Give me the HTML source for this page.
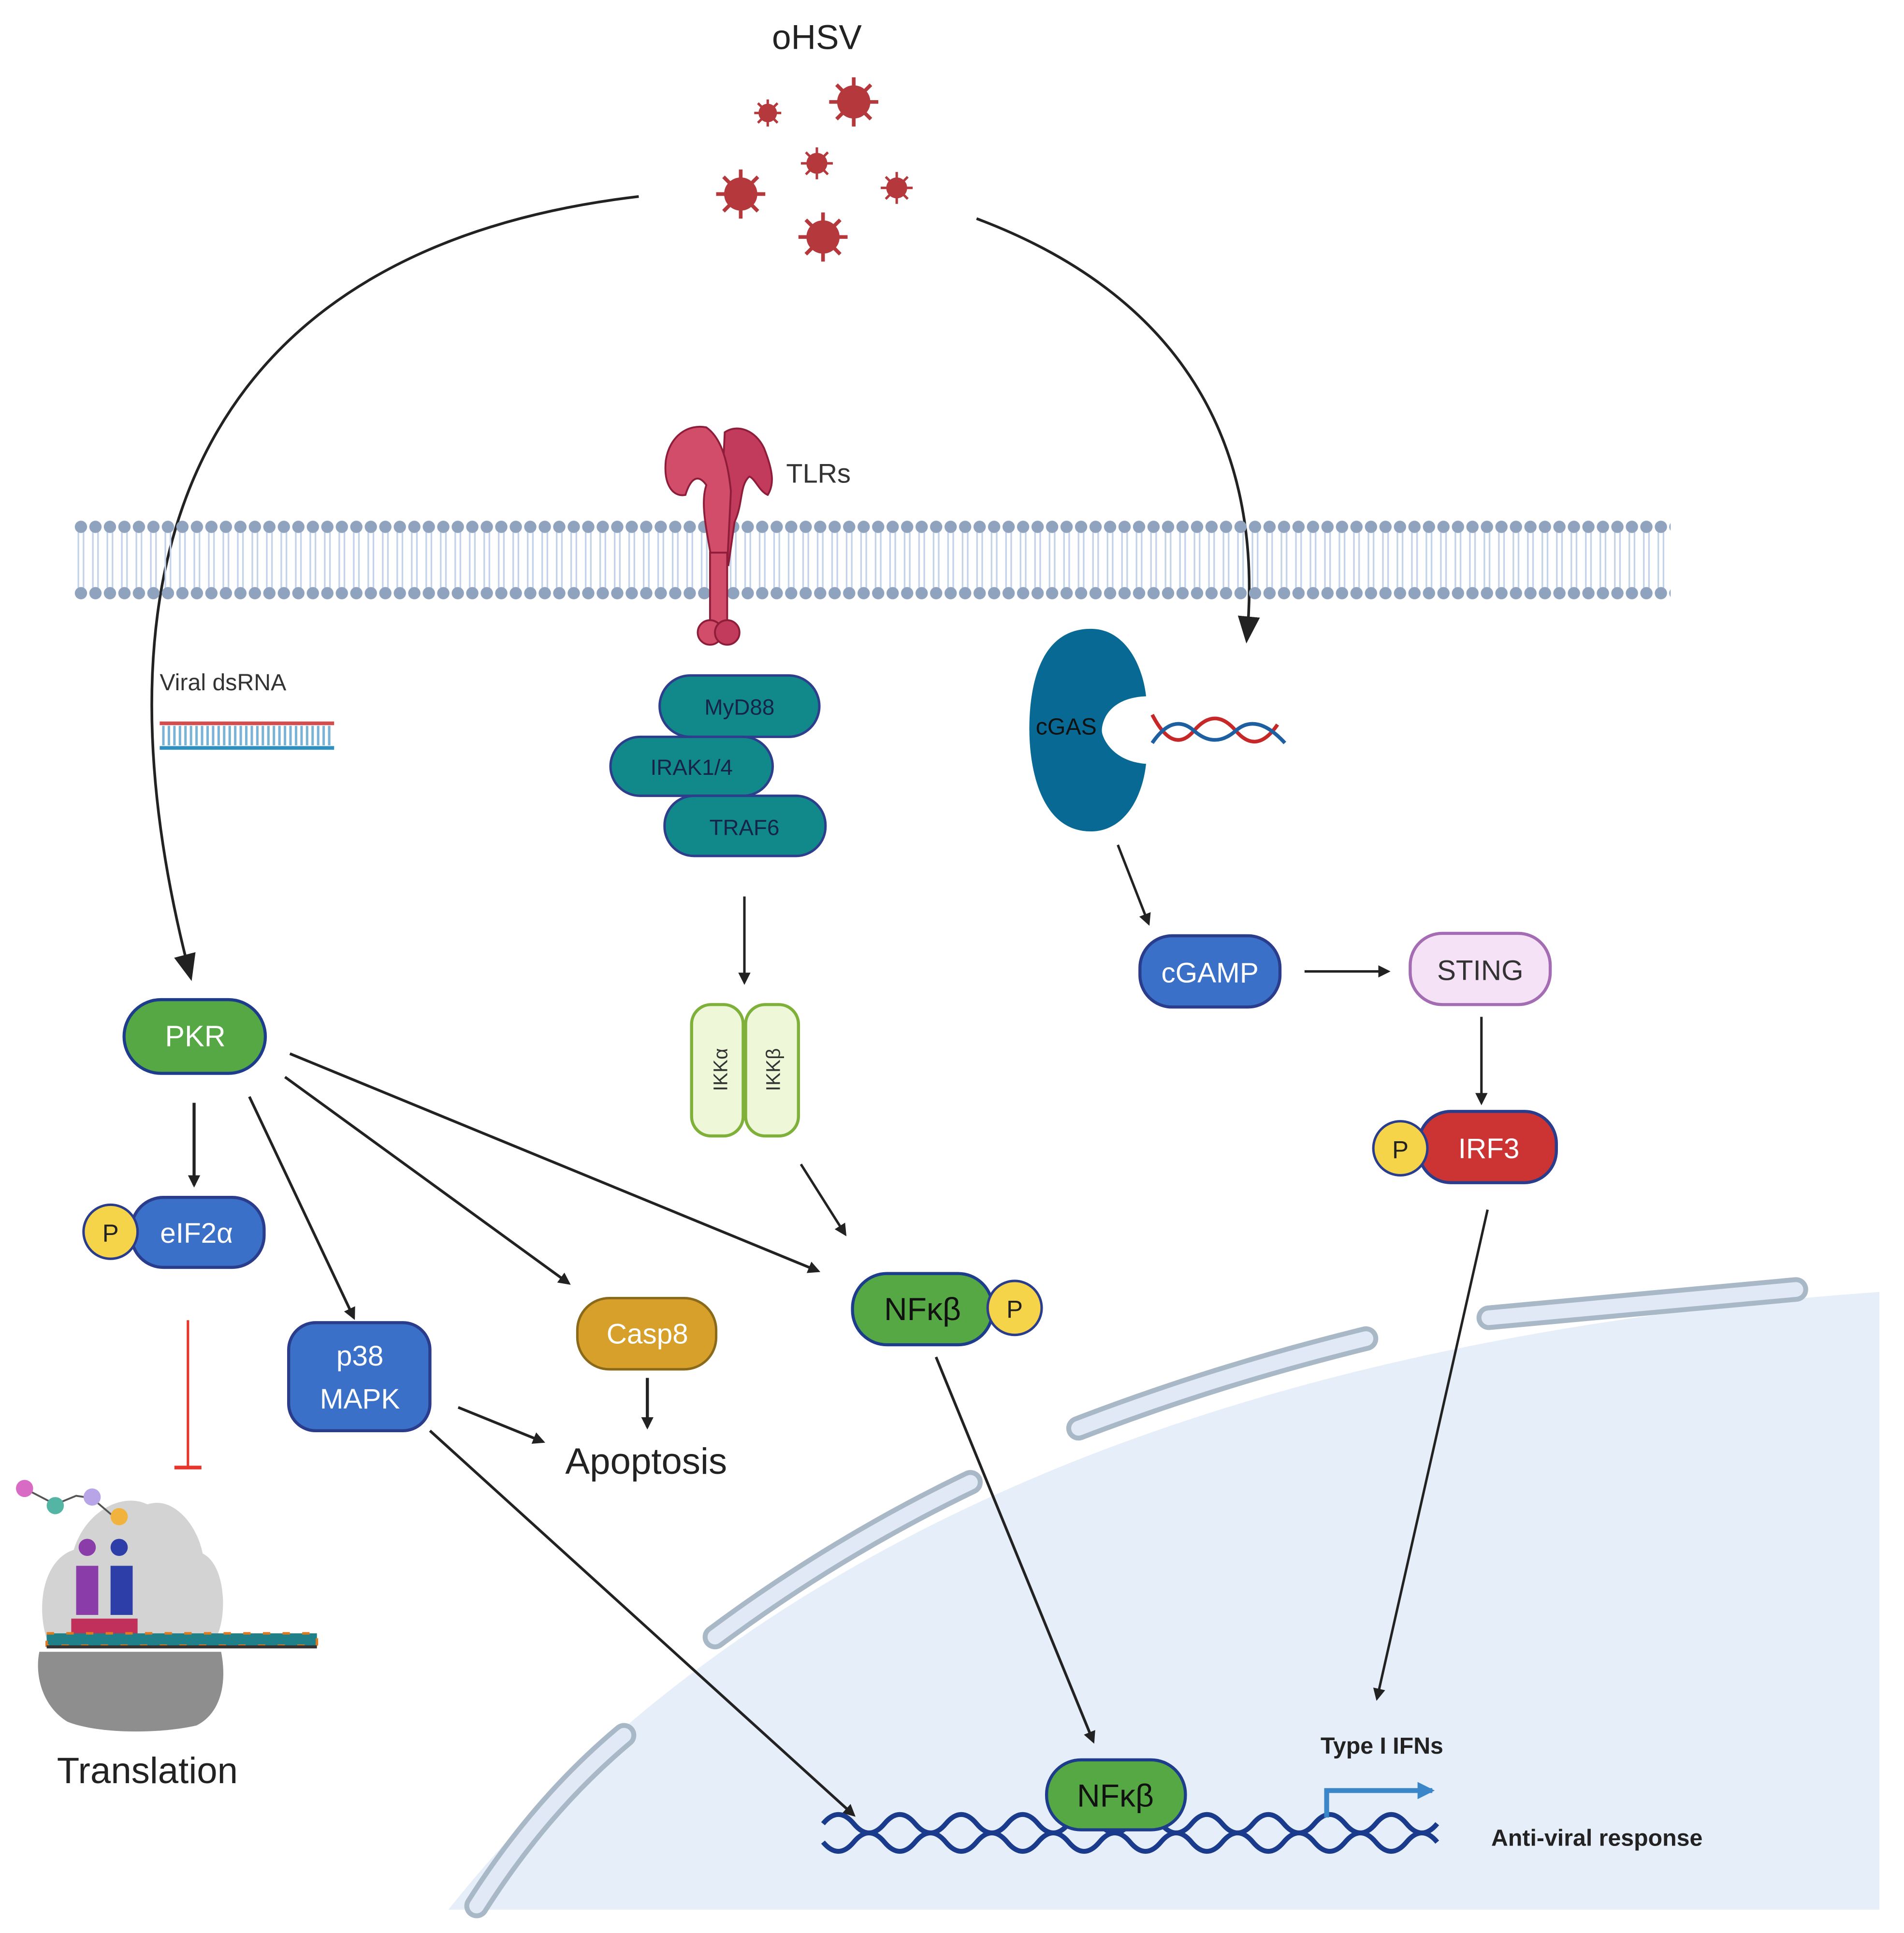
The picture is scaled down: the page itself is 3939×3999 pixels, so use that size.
<!DOCTYPE html>
<html><head><meta charset="utf-8"><style>
html,body{margin:0;padding:0;background:#fff;}
svg{display:block;}
text{font-family:"Liberation Sans",sans-serif;}
</style></head><body>
<svg width="3939" height="3999" viewBox="0 0 1550 1574" preserveAspectRatio="none" xmlns="http://www.w3.org/2000/svg">
<defs>
<marker id="ar" markerWidth="10" markerHeight="10" refX="8" refY="5" orient="auto" markerUnits="userSpaceOnUse"><path d="M0,0 L10,5 L0,10 Z" fill="#222"/></marker>
<marker id="arb" markerWidth="22" markerHeight="22" refX="18" refY="11" orient="auto" markerUnits="userSpaceOnUse"><path d="M0,2 L22,11 L0,20 Z" fill="#222"/></marker>
<marker id="arblue" markerWidth="14" markerHeight="14" refX="12" refY="7" orient="auto" markerUnits="userSpaceOnUse"><path d="M0,0 L14,7 L0,14 Z" fill="#3a86c8"/></marker>
<pattern id="mem" x="60" y="423" width="11.8" height="66" patternUnits="userSpaceOnUse">
<line x1="3.8" y1="10" x2="3.8" y2="56" stroke="#c2d2ea" stroke-width="1.3"/>
<line x1="8" y1="10" x2="8" y2="56" stroke="#c2d2ea" stroke-width="1.3"/>
<circle cx="5.9" cy="6" r="5" fill="#8fa3bf"/>
<circle cx="5.9" cy="60" r="5" fill="#8fa3bf"/>
</pattern>
</defs>
<rect width="1550" height="1574" fill="#fff"/>

<!-- nucleus -->
<path d="M365,1555 Q 720,1110 1530,1052 L1530,1555 Z" fill="#e6eef9"/>
<g stroke-linecap="round" fill="none">
<g stroke="#a9b8c6" stroke-width="20">
<path d="M1212,1073 L1462,1050"/>
<path d="M878,1163 Q 990,1120 1112,1090"/>
<path d="M582,1333 Q 680,1260 790,1207"/>
<path d="M388,1552 Q 440,1470 508,1413"/>
</g>
<g stroke="#e0e9f5" stroke-width="12">
<path d="M1212,1073 L1462,1050"/>
<path d="M878,1163 Q 990,1120 1112,1090"/>
<path d="M582,1333 Q 680,1260 790,1207"/>
<path d="M388,1552 Q 440,1470 508,1413"/>
</g>
</g>

<!-- oHSV -->
<text x="665" y="40" font-size="28" text-anchor="middle" fill="#222">oHSV</text>
<g fill="#b5393c" stroke="#b5393c">
<g transform="translate(625,92)"><circle r="7"/><g stroke-width="2"><line x1="0" y1="-11" x2="0" y2="11"/><line x1="-11" y1="0" x2="11" y2="0"/><line x1="-8" y1="-8" x2="8" y2="8"/><line x1="-8" y1="8" x2="8" y2="-8"/></g></g>
<g transform="translate(695,83)"><circle r="13"/><g stroke-width="3"><line x1="0" y1="-20" x2="0" y2="20"/><line x1="-20" y1="0" x2="20" y2="0"/><line x1="-14" y1="-14" x2="14" y2="14"/><line x1="-14" y1="14" x2="14" y2="-14"/></g></g>
<g transform="translate(665,133)"><circle r="8"/><g stroke-width="2"><line x1="0" y1="-13" x2="0" y2="13"/><line x1="-13" y1="0" x2="13" y2="0"/><line x1="-9" y1="-9" x2="9" y2="9"/><line x1="-9" y1="9" x2="9" y2="-9"/></g></g>
<g transform="translate(603,158)"><circle r="13"/><g stroke-width="3"><line x1="0" y1="-20" x2="0" y2="20"/><line x1="-20" y1="0" x2="20" y2="0"/><line x1="-14" y1="-14" x2="14" y2="14"/><line x1="-14" y1="14" x2="14" y2="-14"/></g></g>
<g transform="translate(730,153)"><circle r="8"/><g stroke-width="2"><line x1="0" y1="-13" x2="0" y2="13"/><line x1="-13" y1="0" x2="13" y2="0"/><line x1="-9" y1="-9" x2="9" y2="9"/><line x1="-9" y1="9" x2="9" y2="-9"/></g></g>
<g transform="translate(670,193)"><circle r="13"/><g stroke-width="3"><line x1="0" y1="-20" x2="0" y2="20"/><line x1="-20" y1="0" x2="20" y2="0"/><line x1="-14" y1="-14" x2="14" y2="14"/><line x1="-14" y1="14" x2="14" y2="-14"/></g></g>
</g>

<!-- big curves -->
<path d="M520,160 C 180,200 60,430 155,795" fill="none" stroke="#222" stroke-width="2.2" marker-end="url(#arb)"/>
<path d="M795,178 C 960,240 1030,360 1015,520" fill="none" stroke="#222" stroke-width="2.2" marker-end="url(#arb)"/>

<!-- membrane -->
<rect x="60" y="423" width="1300" height="66" fill="url(#mem)"/>

<!-- TLR -->
<g fill="#d24d6a" stroke="#8e1d3a" stroke-width="1.5">
<path d="M585,455 L590,352 C600,345 615,350 622,365 C630,385 630,395 625,403 C618,400 615,390 610,388 C602,395 605,410 598,425 L593,460 Z" fill="#c23a5c"/>
<path d="M580,460 C575,430 570,410 575,395 C568,385 562,390 558,403 C548,405 540,395 542,375 C545,355 560,345 575,348 C585,355 592,370 595,400 L592,460 Z"/>
<rect x="578" y="450" width="14" height="60"/>
<circle cx="578" cy="515" r="10"/><circle cx="592" cy="515" r="10" fill="#c23a5c"/>
</g>
<text x="640" y="393" font-size="22" fill="#333">TLRs</text>

<!-- MyD88 stack -->
<g stroke="#2c3e8c" stroke-width="2" fill="#11898a">
<rect x="537" y="550" width="130" height="50" rx="25"/>
<rect x="497" y="600" width="132" height="48" rx="24"/>
<rect x="541" y="648" width="131" height="49" rx="24"/>
</g>
<g font-size="18" fill="#16244a" text-anchor="middle">
<text x="602" y="582">MyD88</text>
<text x="563" y="631">IRAK1/4</text>
<text x="606" y="680">TRAF6</text>
</g>
<line x1="606" y1="730" x2="606" y2="800" stroke="#222" stroke-width="2" marker-end="url(#ar)"/>

<!-- IKK -->
<g fill="#eef7d8" stroke="#7fb03a" stroke-width="2.5">
<rect x="563" y="818" width="42" height="107" rx="16"/>
<rect x="607" y="818" width="43" height="107" rx="16"/>
</g>
<text transform="translate(592,871) rotate(-90)" font-size="16" text-anchor="middle" fill="#333">IKKα</text>
<text transform="translate(635,871) rotate(-90)" font-size="16" text-anchor="middle" fill="#333">IKKβ</text>
<line x1="652" y1="948" x2="688" y2="1005" stroke="#222" stroke-width="2" marker-end="url(#ar)"/>

<!-- cGAS -->
<path d="M888,512 C 838,512 838,580 838,595 C 838,620 845,677 888,677 C 915,677 930,650 933,622 C 905,620 897,600 897,595 C 897,585 905,568 933,567 C 930,540 915,512 888,512 Z" fill="#086a94"/>
<text x="868" y="598" font-size="19" text-anchor="middle" fill="#111">cGAS</text>
<g fill="none" stroke-width="3">
<path d="M938,582 Q 955,615 972,595 T 1006,595 T 1040,590" stroke="#c62828"/>
<path d="M938,605 Q 955,580 972,595 T 1006,595 T 1046,605" stroke="#1d5fa0"/>
</g>
<line x1="910" y1="688" x2="935" y2="752" stroke="#222" stroke-width="2" marker-end="url(#ar)"/>

<!-- cGAMP / STING / IRF3 -->
<rect x="928" y="762" width="114" height="58" rx="26" fill="#3a70c8" stroke="#2a3c8c" stroke-width="2.5"/>
<text x="985" y="800" font-size="23" fill="#fff" text-anchor="middle">cGAMP</text>
<line x1="1062" y1="791" x2="1130" y2="791" stroke="#222" stroke-width="2" marker-end="url(#ar)"/>
<rect x="1148" y="760" width="114" height="58" rx="26" fill="#f6e2f6" stroke="#a36cb3" stroke-width="2.5"/>
<text x="1205" y="798" font-size="23" fill="#333" text-anchor="middle">STING</text>
<line x1="1206" y1="828" x2="1206" y2="898" stroke="#222" stroke-width="2" marker-end="url(#ar)"/>
<rect x="1155" y="905" width="112" height="58" rx="26" fill="#cc3433" stroke="#2a3c8c" stroke-width="2.5"/>
<text x="1212" y="943" font-size="23" fill="#fff" text-anchor="middle">IRF3</text>
<circle cx="1140" cy="935" r="22" fill="#f6d44a" stroke="#2a3c8c" stroke-width="2"/>
<text x="1140" y="943" font-size="20" fill="#222" text-anchor="middle">P</text>
<line x1="1211" y1="985" x2="1121" y2="1383" stroke="#222" stroke-width="2" marker-end="url(#ar)"/>

<!-- Viral dsRNA -->
<text x="130" y="562" font-size="19" fill="#333">Viral dsRNA</text>
<line x1="130" y1="589" x2="272" y2="589" stroke="#d24d4d" stroke-width="3"/>
<line x1="130" y1="609" x2="272" y2="609" stroke="#2f8fbf" stroke-width="3"/>
<line x1="132" y1="599" x2="270" y2="599" stroke="#7ab3d6" stroke-width="16" stroke-dasharray="2 2.5"/>

<!-- PKR -->
<rect x="101" y="814" width="115" height="60" rx="30" fill="#55a843" stroke="#1e3c8c" stroke-width="2.5"/>
<text x="159" y="852" font-size="24" fill="#fff" text-anchor="middle">PKR</text>
<line x1="158" y1="898" x2="158" y2="965" stroke="#222" stroke-width="2.5" marker-end="url(#ar)"/>
<rect x="107" y="975" width="108" height="57" rx="26" fill="#3a70c8" stroke="#2a3c8c" stroke-width="2.5"/>
<text x="160" y="1012" font-size="23" fill="#fff" text-anchor="middle">eIF2α</text>
<circle cx="90" cy="1003" r="22" fill="#f6d44a" stroke="#2a3c8c" stroke-width="2"/>
<text x="90" y="1011" font-size="20" fill="#222" text-anchor="middle">P</text>
<line x1="153" y1="1075" x2="153" y2="1195" stroke="#e8352b" stroke-width="2"/>
<line x1="142" y1="1195" x2="164" y2="1195" stroke="#e8352b" stroke-width="3"/>

<line x1="203" y1="893" x2="288" y2="1073" stroke="#222" stroke-width="2.2" marker-end="url(#ar)"/>
<line x1="232" y1="877" x2="463" y2="1045" stroke="#222" stroke-width="2.2" marker-end="url(#ar)"/>
<line x1="236" y1="858" x2="666" y2="1035" stroke="#222" stroke-width="2.2" marker-end="url(#ar)"/>

<rect x="235" y="1077" width="115" height="88" rx="22" fill="#3a70c8" stroke="#2a3c8c" stroke-width="2.5"/>
<text x="293" y="1112" font-size="23" fill="#fff" text-anchor="middle">p38</text>
<text x="293" y="1147" font-size="23" fill="#fff" text-anchor="middle">MAPK</text>

<rect x="470" y="1057" width="113" height="58" rx="26" fill="#d6a02b" stroke="#8a6a1a" stroke-width="2"/>
<text x="527" y="1094" font-size="23" fill="#fff" text-anchor="middle">Casp8</text>
<line x1="527" y1="1122" x2="527" y2="1162" stroke="#222" stroke-width="2.5" marker-end="url(#ar)"/>
<text x="526" y="1200" font-size="30" fill="#222" text-anchor="middle">Apoptosis</text>
<line x1="373" y1="1146" x2="442" y2="1174" stroke="#222" stroke-width="2.2" marker-end="url(#ar)"/>
<line x1="350" y1="1165" x2="695" y2="1478" stroke="#222" stroke-width="2.2" marker-end="url(#ar)"/>

<!-- NFkB -->
<rect x="694" y="1037" width="114" height="58" rx="28" fill="#55a843" stroke="#1e3c8c" stroke-width="2.5"/>
<text x="751" y="1075" font-size="26" fill="#111" text-anchor="middle">NFκβ</text>
<circle cx="826" cy="1065" r="22" fill="#f6d44a" stroke="#2a3c8c" stroke-width="2"/>
<text x="826" y="1073" font-size="20" fill="#222" text-anchor="middle">P</text>
<line x1="762" y1="1105" x2="890" y2="1418" stroke="#222" stroke-width="2.2" marker-end="url(#ar)"/>

<!-- DNA nucleus -->
<g fill="none" stroke="#1a3a8c" stroke-width="4">
<path d="M670,1485 q12.5,-15 25,0 t25,0 t25,0 t25,0 t25,0 t25,0 t25,0 t25,0 t25,0 t25,0 t25,0 t25,0 t25,0 t25,0 t25,0 t25,0 t25,0 t25,0 t25,0 t25,0"/>
<path d="M670,1500 q12.5,15 25,0 t25,0 t25,0 t25,0 t25,0 t25,0 t25,0 t25,0 t25,0 t25,0 t25,0 t25,0 t25,0 t25,0 t25,0 t25,0 t25,0 t25,0 t25,0 t25,0"/>
</g>
<rect x="852" y="1433" width="113" height="57" rx="28" fill="#55a843" stroke="#1e3c8c" stroke-width="2.5"/>
<text x="908" y="1471" font-size="26" fill="#111" text-anchor="middle">NFκβ</text>
<text x="1125" y="1428" font-size="19" font-weight="bold" fill="#222" text-anchor="middle">Type I IFNs</text>
<path d="M1080,1480 L1080,1458 L1166,1458" fill="none" stroke="#3a86c8" stroke-width="4" marker-end="url(#arblue)"/>
<text x="1300" y="1503" font-size="19" font-weight="bold" fill="#222" text-anchor="middle">Anti-viral response</text>

<!-- ribosome -->
<path d="M40,1340 C28,1310 35,1270 60,1262 C70,1230 100,1215 120,1225 C140,1218 160,1240 165,1265 C185,1275 185,1320 175,1335 Z" fill="#d3d3d3"/>
<path d="M32,1345 L180,1345 C185,1370 180,1395 160,1405 C130,1412 80,1412 55,1402 C35,1390 28,1365 32,1345 Z" fill="#8e8e8e"/>
<rect x="62" y="1275" width="18" height="40" fill="#8a3ca8"/>
<rect x="90" y="1275" width="18" height="40" fill="#2e3ea8"/>
<circle cx="71" cy="1260" r="7" fill="#8a3ca8"/><circle cx="97" cy="1260" r="7" fill="#2e3ea8"/>
<rect x="58" y="1318" width="54" height="14" fill="#c0305a"/>
<rect x="38" y="1330" width="220" height="10" fill="#20808a"/>
<rect x="38" y="1330" width="220" height="10" fill="none" stroke="#e07a1e" stroke-width="2" stroke-dasharray="6 10"/>
<line x1="38" y1="1341" x2="258" y2="1341" stroke="#333" stroke-width="2.5"/>
<g fill="none" stroke="#555" stroke-width="1.5"><path d="M20,1212 L45,1225 L62,1218 L75,1220 L95,1237"/></g>
<circle cx="20" cy="1212" r="7" fill="#d86bc4"/>
<circle cx="45" cy="1226" r="7" fill="#55b5a5"/>
<circle cx="75" cy="1219" r="7" fill="#b8a5e8"/>
<circle cx="97" cy="1235" r="7" fill="#f2b23e"/>
<text x="120" y="1452" font-size="30" fill="#222" text-anchor="middle">Translation</text>
</svg>
</body></html>
